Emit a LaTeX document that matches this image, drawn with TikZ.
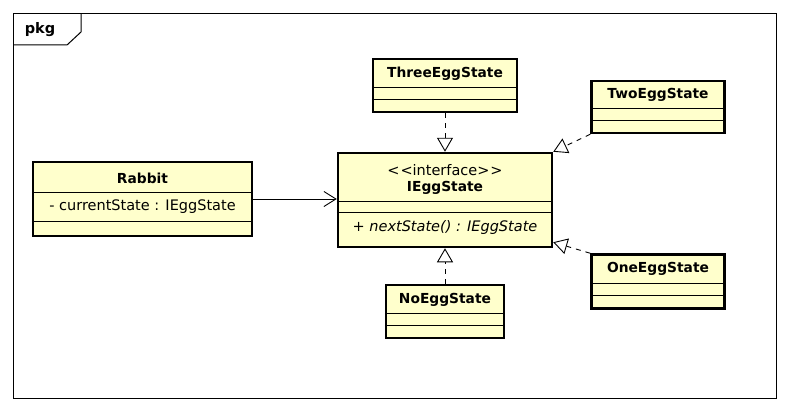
\documentclass[tikz,border=0pt]{standalone}
\usepackage{fontspec}
\setmainfont{DejaVu Sans}
\usetikzlibrary{arrows.meta,calc}
\definecolor{umlfill}{RGB}{255,255,204}
\begin{document}
\begin{tikzpicture}[x=1pt,y=-1pt,
  cls/.style={draw=black, line width=2.5pt, fill=umlfill, inner sep=0pt},
  cmp/.style={line width=0.9pt},
  nm/.style={font=\fontsize{13.8}{15}\selectfont\bfseries, inner sep=0pt},
  txt/.style={font=\fontsize{14.5}{16}\selectfont, inner sep=0pt},
  itx/.style={font=\fontsize{14.5}{16}\selectfont\itshape, inner sep=0pt},
  assoc/.style={line width=0.9pt, -{Straight Barb[length=12pt,width=15pt,line width=0.9pt]}},
  realize/.style={line width=0.9pt, dash pattern=on 5pt off 5pt, -{Triangle[open,length=14pt,width=16pt,line width=0.9pt,fill=white]}}
]
\useasboundingbox (0,0) rectangle (789,412);
% frame
\draw[line width=1pt] (13,14) rectangle (776,398);
\draw[line width=1pt] (13,45) -- (67,45) -- (81,32) -- (81,14);
\node[font=\fontsize{14.5}{16}\selectfont\bfseries, inner sep=0pt] (pkg) at (40,30) {pkg};

% Rabbit
\node[cls, minimum width=219pt, minimum height=74pt] (rabbit) at (142.5,199) {};
\node[nm] (rabbitname) at (142.5,178) {Rabbit};
\node[txt] (rabbitattr) at (142.5,207) {- currentState : IEggState};
\draw[cmp] (rabbit.west |- 0,192) -- (rabbit.east |- 0,192);
\draw[cmp] (rabbit.west |- 0,221) -- (rabbit.east |- 0,221);

% IEggState
\node[cls, minimum width=214pt, minimum height=94pt] (iface) at (445,200) {};
\node[txt] (stereo) at (445,170) {\textless\kern1pt\textless interface\textgreater\kern1pt\textgreater};
\node[nm] (ifacename) at (445,188) {IEggState};
\node[itx] (ifaceop) at (445,228) {+ nextState() : IEggState};
\draw[cmp] (iface.west |- 0,201.5) -- (iface.east |- 0,201.5);
\draw[cmp] (iface.west |- 0,212) -- (iface.east |- 0,212);

% ThreeEggState
\node[cls, minimum width=144pt, minimum height=53pt] (three) at (445,85.5) {};
\node[nm] (threename) at (445,74) {ThreeEggState};
\draw[cmp] (three.west |- 0,87.5) -- (three.east |- 0,87.5);
\draw[cmp] (three.west |- 0,99.5) -- (three.east |- 0,99.5);

% TwoEggState
\node[cls, minimum width=133pt, minimum height=52pt] (two) at (658,107) {};
\node[nm] (twoname) at (658,95) {TwoEggState};
\draw[cmp] (two.west |- 0,108.5) -- (two.east |- 0,108.5);
\draw[cmp] (two.west |- 0,120) -- (two.east |- 0,120);

% OneEggState
\node[cls, minimum width=133pt, minimum height=54pt] (one) at (658,281.5) {};
\node[nm] (onename) at (658,269) {OneEggState};
\draw[cmp] (one.west |- 0,283.5) -- (one.east |- 0,283.5);
\draw[cmp] (one.west |- 0,295) -- (one.east |- 0,295);

% NoEggState
\node[cls, minimum width=118pt, minimum height=53pt] (none) at (445,311.5) {};
\node[nm] (nonename) at (445,300) {NoEggState};
\draw[cmp] (none.west |- 0,313.5) -- (none.east |- 0,313.5);
\draw[cmp] (none.west |- 0,325) -- (none.east |- 0,325);

% connectors
\draw[assoc] (rabbit.east) -- (iface.west |- rabbit.east);
\draw[realize] (three.south) -- (iface.north);
\draw[realize] (none.north) -- (iface.south);
\draw[realize] (two.south west) -- (iface.north east);
\draw[realize] (one.north west) -- ([yshift=6pt]iface.south east);
\end{tikzpicture}
\end{document}
